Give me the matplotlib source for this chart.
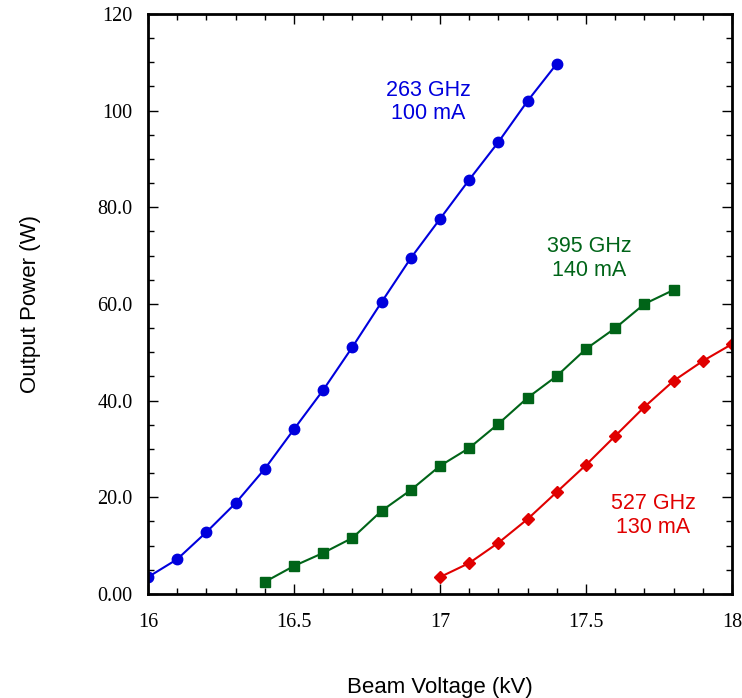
import numpy as np
import matplotlib
matplotlib.use("Agg")
import matplotlib.pyplot as plt
from matplotlib.ticker import MultipleLocator, FixedFormatter, FixedLocator

# 263 GHz, 100 mA
v_263 = [16.0, 16.1, 16.2, 16.3, 16.4, 16.5, 16.6, 16.7, 16.8, 16.9, 17.0, 17.1, 17.2, 17.3, 17.4]
p_263 = [3.5, 7.2, 12.8, 18.8, 25.9, 34.1, 42.2, 51.1, 60.4, 69.5, 77.6, 85.7, 93.5, 102.0, 109.7]

# 395 GHz, 140 mA
v_395 = [16.4, 16.5, 16.6, 16.7, 16.8, 16.9, 17.0, 17.1, 17.2, 17.3, 17.4, 17.5, 17.6, 17.7, 17.8]
p_395 = [2.5, 5.8, 8.5, 11.6, 17.2, 21.5, 26.5, 30.2, 35.2, 40.6, 45.1, 50.7, 55.0, 60.0, 62.9]

# 527 GHz, 130 mA
v_527 = [17.0, 17.1, 17.2, 17.3, 17.4, 17.5, 17.6, 17.7, 17.8, 17.9, 18.0]
p_527 = [3.5, 6.4, 10.6, 15.5, 21.1, 26.7, 32.7, 38.7, 44.1, 48.2, 51.7]

x_ticks = [16, 16.5, 17, 17.5, 18]
x_labels = ["16", "16.5", "17", "17.5", "18"]
y_ticks = [0, 20, 40, 60, 80, 100, 120]
y_labels = ["0.00", "20.0", "40.0", "60.0", "80.0", "100", "120"]

blue = "#0000dd"
green = "#006418"
red = "#e00000"

fig = plt.figure(figsize=(7.42, 6.98), dpi=100)
ax = fig.add_axes([0.1995, 0.149, 0.787, 0.831])

ax.plot(v_263, p_263, "-o", color=blue, lw=1.5, ms=7.5)
ax.plot(v_395, p_395, "-s", color=green, lw=1.5, ms=7.5)
ax.plot(v_527, p_527, "-D", color=red, lw=1.5, ms=6.5)

ax.set_xlim(16, 18)
ax.set_ylim(0, 120)

ax.xaxis.set_major_locator(FixedLocator(x_ticks))
ax.xaxis.set_major_formatter(FixedFormatter(x_labels))
ax.xaxis.set_minor_locator(MultipleLocator(0.1))
ax.yaxis.set_major_locator(FixedLocator(y_ticks))
ax.yaxis.set_major_formatter(FixedFormatter(y_labels))
ax.yaxis.set_minor_locator(MultipleLocator(5))

ax.tick_params(which="both", direction="in", top=True, right=True, width=1.0)
ax.tick_params(which="major", length=7)
ax.tick_params(which="minor", length=4)
ax.tick_params(axis="x", pad=14)
ax.tick_params(axis="y", pad=11)
for lab in ax.get_xticklabels() + ax.get_yticklabels():
    lab.set_family("Liberation Serif")
    lab.set_fontsize(14.5)
for s in ax.spines.values():
    s.set_linewidth(2.0)

ax.set_xlabel("Beam Voltage (kV)", family="Liberation Sans", fontsize=16, labelpad=32)
ax.set_ylabel("Output Power (W)", family="Liberation Sans", fontsize=16, labelpad=41)

txt = dict(ha="center", va="center", family="Liberation Sans", fontsize=15.5, linespacing=1.15)
ax.text(16.96, 101.8, "263 GHz\n100 mA", color=blue, **txt)
ax.text(17.51, 69.4, "395 GHz\n140 mA", color=green, **txt)
ax.text(17.73, 16.2, "527 GHz\n130 mA", color=red, **txt)

fig.savefig("out.png", dpi=100)
